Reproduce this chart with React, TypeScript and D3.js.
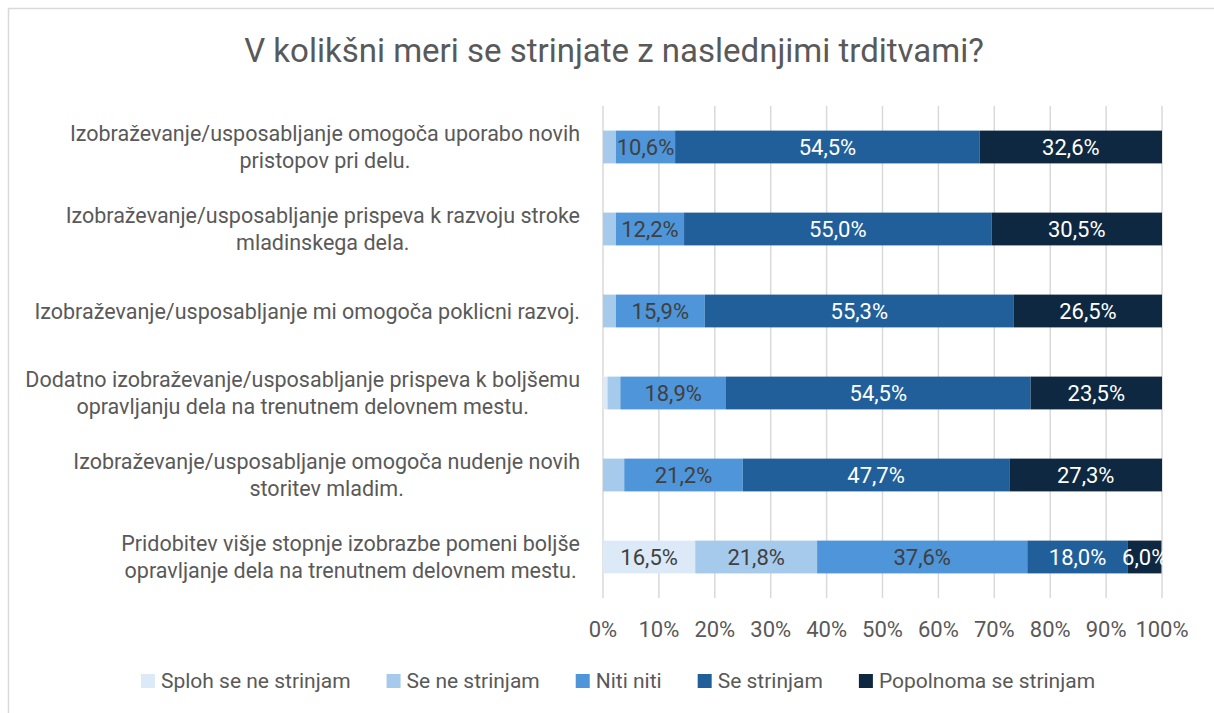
import React, { useRef, useEffect } from 'react';
import * as d3 from 'd3';

// Survey statements (y categories), split into display lines
const statements: string[][] = [
  ['Izobraževanje/usposabljanje omogoča uporabo novih', 'pristopov pri delu.'],
  ['Izobraževanje/usposabljanje prispeva k razvoju stroke', 'mladinskega dela.'],
  ['Izobraževanje/usposabljanje mi omogoča poklicni razvoj.'],
  ['Dodatno izobraževanje/usposabljanje prispeva k boljšemu', 'opravljanju dela na trenutnem delovnem mestu.'],
  ['Izobraževanje/usposabljanje omogoča nudenje novih', 'storitev mladim.'],
  ['Pridobitev višje stopnje izobrazbe pomeni boljše', 'opravljanje dela na trenutnem delovnem mestu.'],
];

const seriesNames = ['Sploh se ne strinjam', 'Se ne strinjam', 'Niti niti', 'Se strinjam', 'Popolnoma se strinjam'];
const seriesColors = ['#DCEAF7', '#A6CAEC', '#4E95D9', '#215F9A', '#0E2841'];
const labelColors = ['#404040', '#404040', '#404040', '#ffffff', '#ffffff'];

// values in percent, one array per series (same order as statements)
const splohNe = [0, 0, 0, 0.8, 0, 16.5];
const seNe = [2.3, 2.3, 2.3, 2.3, 3.8, 21.8];
const nitiNiti = [10.6, 12.2, 15.9, 18.9, 21.2, 37.6];
const seStrinjam = [54.5, 55.0, 55.3, 54.5, 47.7, 18.0];
const popolnoma = [32.6, 30.5, 26.5, 23.5, 27.3, 6.0];

// which segments carry a data label
const showLabel = [
  [false, false, true, true, true],
  [false, false, true, true, true],
  [false, false, true, true, true],
  [false, false, true, true, true],
  [false, false, true, true, true],
  [true, true, true, true, true],
];

const xTicks = [0, 10, 20, 30, 40, 50, 60, 70, 80, 90, 100];

const title = 'V kolikšni meri se strinjate z naslednjimi trditvami?';

const W = 1214;
const H = 713;
const FONT = 'Roboto, "Noto Sans", sans-serif';
const TEXT = '#595959';

const App: React.FC = () => {
  const svgRef = useRef<SVGSVGElement>(null);

  useEffect(() => {
    if (!svgRef.current) return;
    const svg = d3.select(svgRef.current);
    svg.selectAll('*').remove();
    svg.style('font-family', FONT);

    // chart border (extends past the window on right/bottom)
    svg.append('rect')
      .attr('x', 8.5).attr('y', 8.5)
      .attr('width', W + 20).attr('height', H + 20)
      .attr('fill', '#fff')
      .attr('stroke', '#d9d9d9')
      .attr('stroke-width', 1.5);

    // title
    svg.append('text')
      .attr('x', 614).attr('y', 50)
      .attr('dy', '0.35em')
      .attr('text-anchor', 'middle')
      .style('font-size', '33px')
      .style('fill', TEXT)
      .text(title);

    const plot = { left: 603, right: 1162, top: 106, bottom: 598 };

    const x = d3.scaleLinear().domain([0, 100]).range([plot.left, plot.right]);
    const y = d3.scaleBand<number>()
      .domain(statements.map((_, i) => i))
      .range([plot.top, plot.bottom])
      .paddingInner(0.6)
      .paddingOuter(0.3);

    // gridlines
    svg.append('g')
      .selectAll('line')
      .data(xTicks)
      .join('line')
      .attr('x1', d => x(d)).attr('x2', d => x(d))
      .attr('y1', plot.top).attr('y2', plot.bottom)
      .attr('stroke', '#d9d9d9')
      .attr('stroke-width', 1.5);

    // tick labels
    svg.append('g')
      .selectAll('text')
      .data(xTicks)
      .join('text')
      .attr('x', d => x(d))
      .attr('y', 629)
      .attr('dy', '0.35em')
      .attr('text-anchor', 'middle')
      .style('font-size', '22px')
      .style('fill', TEXT)
      .text(d => `${d}%`);

    // stacked data
    const allSeries = [splohNe, seNe, nitiNiti, seStrinjam, popolnoma];
    const rows = statements.map((_, i) => {
      const row: Record<string, number> = { idx: i };
      seriesNames.forEach((s, k) => { row[s] = allSeries[k][i]; });
      return row;
    });
    const stacked = d3.stack<Record<string, number>>().keys(seriesNames)(rows);

    svg.append('defs').append('clipPath').attr('id', 'plotClip')
      .append('rect')
      .attr('x', plot.left - 5).attr('y', 0)
      .attr('width', plot.right - plot.left + 6).attr('height', H);

    stacked.forEach((layer, k) => {
      svg.append('g')
        .selectAll('rect')
        .data(layer)
        .join('rect')
        .attr('x', d => x(d[0]))
        .attr('y', (_, i) => y(i)!)
        .attr('width', d => Math.max(0, x(d[1]) - x(d[0])))
        .attr('height', y.bandwidth())
        .attr('fill', seriesColors[k]);
    });

    const fmt = (v: number) => `${v.toFixed(1).replace('.', ',')}%`;
    const labelsG = svg.append('g').attr('clip-path', 'url(#plotClip)');
    stacked.forEach((layer, k) => {
      labelsG.append('g')
        .selectAll('text')
        .data(layer.filter((_, i) => showLabel[i][k]).map(d => ({ d, i: d.data.idx })))
        .join('text')
        .attr('x', o => (x(o.d[0]) + x(o.d[1])) / 2)
        .attr('y', o => y(o.i)! + y.bandwidth() / 2)
        .attr('dy', '0.35em')
        .attr('text-anchor', 'middle')
        .style('font-size', '22px')
        .style('fill', labelColors[k])
        .text(o => fmt(o.d[1] - o.d[0]));
    });

    // category labels: block right-aligned at 580, lines centred within block
    const lineH = 27;
    const catG = svg.append('g');
    statements.forEach((lines, i) => {
      const g = catG.append('g');
      const texts = lines.map(l => g.append('text')
        .style('font-size', '21.5px')
        .style('fill', TEXT)
        .attr('text-anchor', 'middle')
        .text(l));
      const widths = texts.map(t => (t.node() as SVGTextElement).getComputedTextLength());
      const maxW = d3.max(widths) || 0;
      const cx = 580 - maxW / 2;
      const cy = y(i)! + y.bandwidth() / 2;
      texts.forEach((t, j) => {
        t.attr('x', cx)
          .attr('y', cy + (j - (lines.length - 1) / 2) * lineH)
          .attr('dy', '0.35em');
      });
    });

    // legend
    const legend = svg.append('g');
    const sw = 14;
    const gapText = 6;
    const gapItem = 36;
    let cur = 0;
    seriesNames.forEach((name, k) => {
      const item = legend.append('g').attr('transform', `translate(${cur},0)`);
      item.append('rect')
        .attr('x', 0).attr('y', -sw / 2)
        .attr('width', sw).attr('height', sw)
        .attr('fill', seriesColors[k]);
      const t = item.append('text')
        .attr('x', sw + gapText)
        .attr('dy', '0.35em')
        .style('font-size', '21px')
        .style('fill', TEXT)
        .text(name);
      cur += sw + gapText + (t.node() as SVGTextElement).getComputedTextLength() + gapItem;
    });
    const total = cur - gapItem;
    legend.attr('transform', `translate(${618 - total / 2},681)`);
  }, []);

  return (
    <svg
      ref={svgRef}
      width={W}
      height={H}
      style={{ position: 'absolute', left: 0, top: 0, background: '#fff' }}
    />
  );
};

export default App;
